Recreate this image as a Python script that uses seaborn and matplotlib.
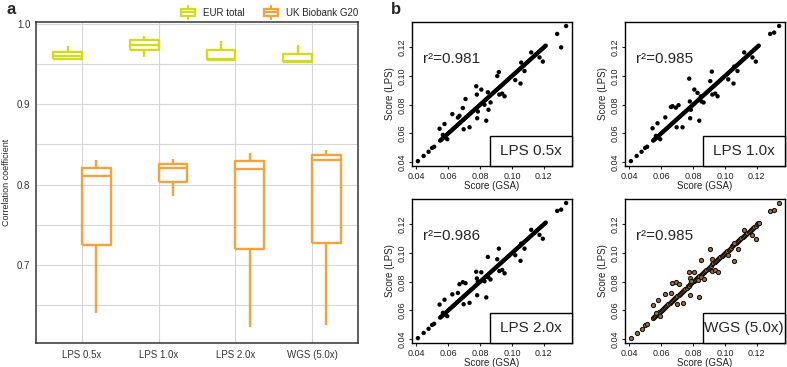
import numpy as np
import pandas as pd
import matplotlib
matplotlib.use("Agg")
import matplotlib.pyplot as plt
import seaborn as sns
from matplotlib.patches import Rectangle
from matplotlib.lines import Line2D
from matplotlib.legend_handler import HandlerBase

# ---------------- data: panel a ----------------
methods = ["LPS 0.5x", "LPS 1.0x", "LPS 2.0x", "WGS (5.0x)"]
groups = ["EUR total", "UK Biobank G20"]
eur_05 = [0.9544, 0.956, 0.960, 0.9644, 0.9718]
eur_10 = [0.9586, 0.9677, 0.974, 0.980, 0.985]
eur_20 = [0.954, 0.9544, 0.956, 0.9669, 0.978]
eur_wgs = [0.9525, 0.9528, 0.954, 0.9627, 0.974]
uk_05 = [0.640, 0.725, 0.810, 0.821, 0.831]
uk_10 = [0.786, 0.803, 0.820, 0.826, 0.832]
uk_20 = [0.623, 0.720, 0.819, 0.829, 0.839]
uk_wgs = [0.625, 0.727, 0.830, 0.837, 0.843]

# ---------------- data: panel b ----------------
gsa_diag = [0.0410, 0.0446, 0.0477, 0.0499, 0.0512,
            0.0550, 0.0555, 0.0561, 0.0568, 0.0574, 0.0580, 0.0589, 0.0597, 0.0604, 0.0611,
            0.0617, 0.0625, 0.0631, 0.0638, 0.0645, 0.0653, 0.0659, 0.0667, 0.0674, 0.0680,
            0.0688, 0.0695, 0.0701, 0.0709, 0.0716, 0.0723, 0.0731, 0.0738, 0.0744, 0.0752,
            0.0759, 0.0767, 0.0773, 0.0781, 0.0788, 0.0796, 0.0803, 0.0810, 0.0818, 0.0826,
            0.0833, 0.0839, 0.0847, 0.0855, 0.0862, 0.0869, 0.0877, 0.0884, 0.0891, 0.0899,
            0.0906, 0.0913, 0.0921, 0.0928, 0.0935, 0.0943, 0.0950, 0.0957, 0.0965, 0.0972,
            0.0979, 0.0987, 0.0994, 0.1001, 0.1009, 0.1016, 0.1023, 0.1031, 0.1038, 0.1046,
            0.1053, 0.1060, 0.1068, 0.1075, 0.1082, 0.1090, 0.1097, 0.1104, 0.1112, 0.1119,
            0.1126, 0.1134, 0.1141, 0.1148, 0.1156, 0.1163, 0.1170, 0.1178, 0.1185, 0.1192,
            0.1200, 0.1207, 0.1212, 0.1284, 0.1340]
lps_diag = [0.0407, 0.0443, 0.0472, 0.0499, 0.0507,
            0.0550, 0.0555, 0.0561, 0.0568, 0.0574, 0.0580, 0.0589, 0.0597, 0.0604, 0.0611,
            0.0617, 0.0625, 0.0631, 0.0638, 0.0645, 0.0653, 0.0659, 0.0667, 0.0674, 0.0680,
            0.0688, 0.0695, 0.0701, 0.0709, 0.0716, 0.0723, 0.0731, 0.0738, 0.0744, 0.0752,
            0.0759, 0.0767, 0.0773, 0.0781, 0.0788, 0.0796, 0.0803, 0.0810, 0.0818, 0.0826,
            0.0833, 0.0839, 0.0847, 0.0855, 0.0862, 0.0869, 0.0877, 0.0884, 0.0891, 0.0899,
            0.0906, 0.0913, 0.0921, 0.0928, 0.0935, 0.0943, 0.0950, 0.0957, 0.0965, 0.0972,
            0.0979, 0.0987, 0.0994, 0.1001, 0.1009, 0.1016, 0.1023, 0.1031, 0.1038, 0.1046,
            0.1053, 0.1060, 0.1068, 0.1075, 0.1082, 0.1090, 0.1097, 0.1104, 0.1112, 0.1119,
            0.1126, 0.1134, 0.1141, 0.1148, 0.1156, 0.1163, 0.1170, 0.1178, 0.1185, 0.1192,
            0.1200, 0.1207, 0.1212, 0.1294, 0.1349]

gsa_off = [0.0546, 0.0567, 0.0577, 0.0594, 0.0626, 0.0661, 0.0671, 0.0692, 0.0697, 0.0709,
           0.0734, 0.0776, 0.0780, 0.0782, 0.0786, 0.0808, 0.0828, 0.0839, 0.0849, 0.0853,
           0.0866, 0.0908, 0.0918, 0.0921, 0.0939, 0.0954, 0.1021, 0.1054, 0.1058, 0.1079,
           0.1121, 0.1173, 0.1194, 0.1309]
lps05_off = [0.0633, 0.0590, 0.0666, 0.0560, 0.0735, 0.0711, 0.0723, 0.0777, 0.0629, 0.0840,
             0.0643, 0.0929, 0.0871, 0.0706, 0.0753, 0.0906, 0.0800, 0.0689, 0.0887, 0.0765,
             0.0816, 0.1000, 0.1028, 0.0871, 0.0878, 0.0859, 0.0972, 0.0948, 0.1094, 0.1035,
             0.1165, 0.1130, 0.1101, 0.1200]
lps10_off = [0.0636, 0.0583, 0.0671, 0.0560, 0.0712, 0.0784, 0.0790, 0.0780, 0.0643, 0.0797,
             0.0643, 0.0982, 0.0823, 0.0706, 0.0765, 0.0906, 0.0883, 0.0689, 0.0859, 0.0823,
             0.0816, 0.0965, 0.1031, 0.0871, 0.0878, 0.0859, 0.0977, 0.0948, 0.1066, 0.1035,
             0.1165, 0.1130, 0.1101, 0.1303]
lps20_off = [0.0641, 0.0583, 0.0675, 0.0560, 0.0712, 0.0722, 0.0783, 0.0797, 0.0643, 0.0790,
             0.0653, 0.0870, 0.0823, 0.0706, 0.0800, 0.0866, 0.0803, 0.0691, 0.0973, 0.0830,
             0.0816, 0.0957, 0.1031, 0.0875, 0.0882, 0.0859, 0.0985, 0.0946, 0.1066, 0.1031,
             0.1162, 0.1127, 0.1100, 0.1303]
wgs_off = [0.0641, 0.0583, 0.0675, 0.0560, 0.0712, 0.0722, 0.0790, 0.0800, 0.0643, 0.0784,
           0.0653, 0.0870, 0.0823, 0.0706, 0.0803, 0.0866, 0.0810, 0.0691, 0.0955, 0.0830,
           0.0816, 0.1031, 0.0957, 0.0875, 0.0882, 0.0866, 0.0985, 0.0946, 0.1070, 0.1031,
           0.1162, 0.1127, 0.1100, 0.1303]

r2_values = ["0.981", "0.985", "0.986", "0.985"]
panel_labels = ["LPS 0.5x", "LPS 1.0x", "LPS 2.0x", "WGS (5.0x)"]
scatter_ticks = [0.04, 0.06, 0.08, 0.10, 0.12]

EUR_COLOR = "#cfdc1e"
UK_COLOR = "#f3a33b"

sns.set_style("white")
plt.rcParams["font.family"] = ["Liberation Sans", "DejaVu Sans"]

fig = plt.figure(figsize=(7.87, 3.67), dpi=100)

# ---------------- panel a ----------------
rows = []
eur_all = [eur_05, eur_10, eur_20, eur_wgs]
uk_all = [uk_05, uk_10, uk_20, uk_wgs]
for m, ev, uv in zip(methods, eur_all, uk_all):
    for v in ev:
        rows.append((m, groups[0], v))
    for v in uv:
        rows.append((m, groups[1], v))
df = pd.DataFrame(rows, columns=["method", "group", "r"])

axa = fig.add_axes([36 / 787, 24 / 367, 322 / 787, 321 / 367])
for yv in [0.65, 0.7, 0.75, 0.8, 0.85, 0.9, 0.95, 1.0]:
    axa.axhline(yv, color="#d6d6d6", lw=0.8, zorder=0)
for xv in range(4):
    axa.axvline(xv, color="#d6d6d6", lw=0.8, zorder=0)
sns.boxplot(data=df, x="method", y="r", hue="group", order=methods, hue_order=groups,
            palette=[EUR_COLOR, UK_COLOR], fill=False, width=0.75, gap=0,
            whis=(0, 100), linewidth=1.7, ax=axa, legend=False,
            capprops={"visible": False})
for line in axa.lines:
    line.set_solid_capstyle("butt")
axa.set_xlim(-0.6, 3.6)
axa.set_ylim(0.603, 1.002)
axa.set_yticks([0.7, 0.8, 0.9, 1.0])
axa.set_yticklabels(["0.7", "0.8", "0.9", "1.0"])
axa.set_xlabel("")
axa.set_ylabel("Correlation coefficient", fontsize=6.5, labelpad=4)
axa.tick_params(axis="both", length=0, labelsize=7, colors="#333333", pad=4)
axa.tick_params(axis="x", pad=5)
for s in axa.spines.values():
    s.set_color("#333333")
    s.set_linewidth(1.1)


class BoxHandler(HandlerBase):
    def create_artists(self, legend, orig_handle, xdescent, ydescent, width, height,
                       fontsize, trans):
        c = orig_handle.get_edgecolor()
        cx = -xdescent + width / 2
        bw = width * 0.95
        x0 = cx - bw / 2
        bh = height * 0.62
        y0 = -ydescent + (height - bh) / 2
        rect = Rectangle((x0, y0), bw, bh, fill=False, ec=c, lw=1.6, transform=trans)
        med = Line2D([x0, x0 + bw], [y0 + bh / 2] * 2, color=c, lw=1.6, transform=trans)
        wt = Line2D([cx, cx], [y0 + bh, y0 + bh + height * 0.25], color=c, lw=1.6,
                    transform=trans)
        wb = Line2D([cx, cx], [y0, y0 - height * 0.25], color=c, lw=1.6, transform=trans)
        return [rect, med, wt, wb]


h1 = Rectangle((0, 0), 1, 1, fill=False, ec=EUR_COLOR)
h2 = Rectangle((0, 0), 1, 1, fill=False, ec=UK_COLOR)
axa.legend([h1, h2], groups, handler_map={Rectangle: BoxHandler()},
           loc="lower right", bbox_to_anchor=(1.015, 0.995), ncol=2, frameon=False,
           fontsize=7, handlelength=1.5, handleheight=1.6, columnspacing=1.9,
           handletextpad=0.8, borderaxespad=0.1)

fig.text(0.008, 0.975, "a", fontsize=12, fontweight="bold", va="center")
fig.text(0.497, 0.975, "b", fontsize=12, fontweight="bold", va="center")

# ---------------- panel b ----------------
offs = [lps05_off, lps10_off, lps20_off, wgs_off]
positions = [
    [412 / 787, 201 / 367, 160 / 787, 144 / 367],
    [625 / 787, 201 / 367, 160 / 787, 144 / 367],
    [412 / 787, 24 / 367, 160 / 787, 144 / 367],
    [625 / 787, 24 / 367, 160 / 787, 144 / 367],
]
for i in range(4):
    ax = fig.add_axes(positions[i])
    xs = gsa_diag + gsa_off
    ys = lps_diag + offs[i]
    if i == 3:
        sns.scatterplot(x=xs, y=ys, ax=ax, s=9, color="#8f6e4e", edgecolor="#1a120b",
                        linewidth=0.75, zorder=3)
    else:
        sns.scatterplot(x=xs, y=ys, ax=ax, s=10, color="black", edgecolor="none",
                        linewidth=0, zorder=3)
    ax.set_xlim(0.0373, 0.1377)
    ax.set_ylim(0.0373, 0.1377)
    ax.set_xticks(scatter_ticks)
    ax.set_yticks(scatter_ticks)
    ax.set_xticklabels([f"{t:.2f}" for t in scatter_ticks])
    ax.set_yticklabels([f"{t:.2f}" for t in scatter_ticks], rotation=90, va="center")
    ax.tick_params(axis="both", length=2.5, width=0.8, labelsize=6.5, pad=1.5,
                   direction="out", colors="#222222", bottom=True, left=True)
    ax.set_xlabel("Score (GSA)", fontsize=7, labelpad=0, color="#222222")
    ax.set_ylabel("Score (LPS)", fontsize=7, labelpad=2, color="#222222")
    for s in ax.spines.values():
        s.set_color("black")
        s.set_linewidth(1.0)
    ax.text(0.07, 0.745, f"r\u00b2={r2_values[i]}", transform=ax.transAxes,
            fontsize=11, va="center", ha="left")
    ax.add_patch(Rectangle((0.49, 0.0), 0.51, 0.21, transform=ax.transAxes,
                           facecolor="white", edgecolor="black", lw=1.0, zorder=5,
                           clip_on=False))
    ax.text(0.745, 0.105, panel_labels[i], transform=ax.transAxes, fontsize=11,
            ha="center", va="center", zorder=6)

fig.savefig("out.png", dpi=100)
